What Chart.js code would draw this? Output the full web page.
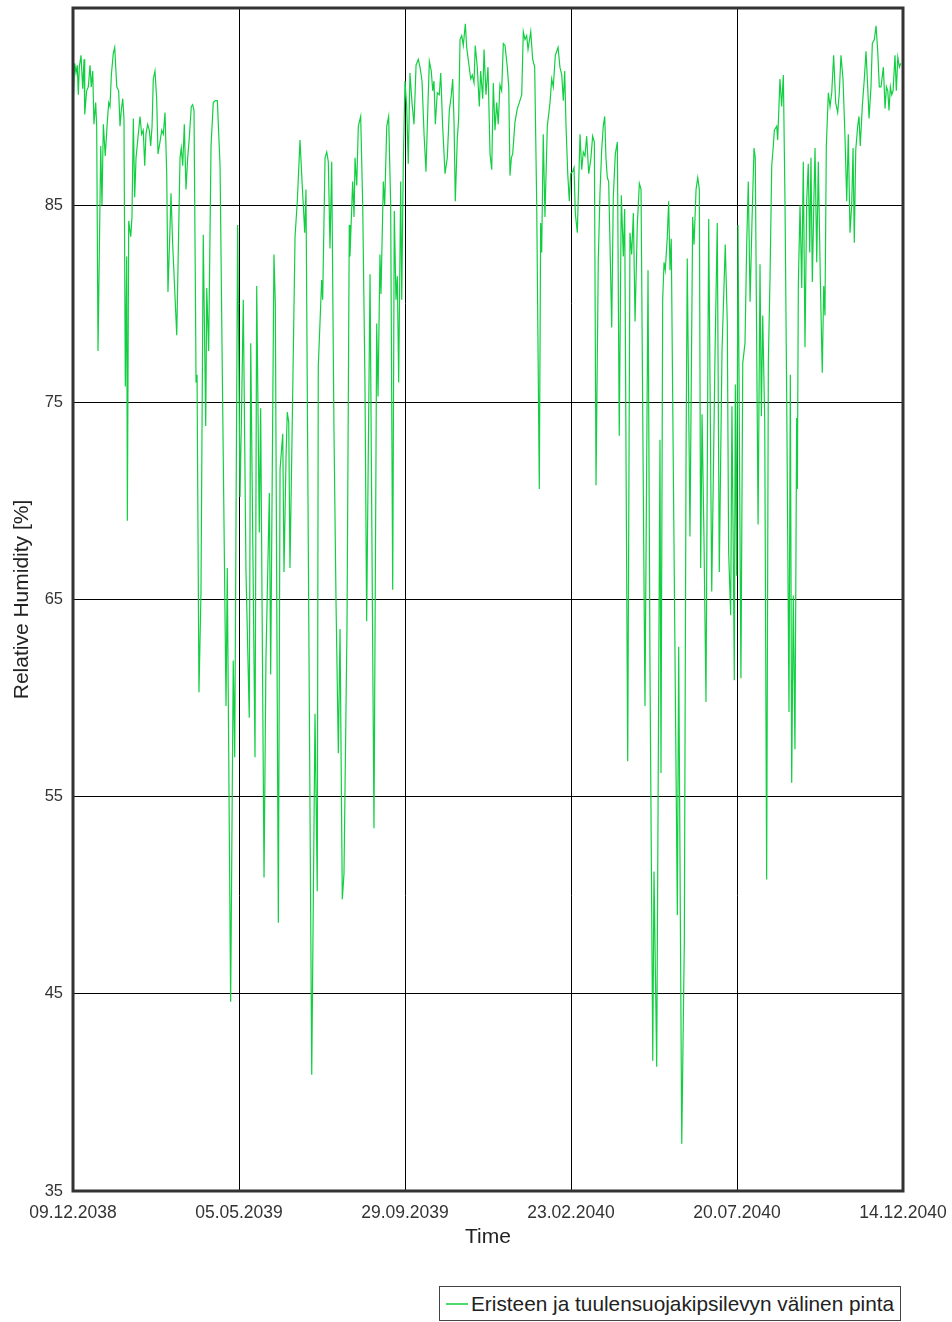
<!DOCTYPE html>
<html>
<head>
<meta charset="utf-8">
<title>Relative Humidity</title>
<script src="https://cdn.jsdelivr.net/npm/chart.js@4.4.1/dist/chart.umd.min.js"></script>
<style>
  html, body { margin: 0; padding: 0; background: #fff; }
  #wrap { position: relative; width: 952px; height: 1322px; overflow: hidden; }
  canvas { display: block; }
  #legend {
    position: absolute; left: 439px; top: 1286px; width: 460px; height: 33px;
    border: 1px solid #444; background: #fff;
    display: flex; align-items: center;
    font-family: 'Liberation Sans', Arial, sans-serif; font-size: 20.8px; color: #222;
    white-space: nowrap;
  }
  #legend .swatch { display: inline-block; width: 22px; height: 0; border-top: 2px solid #4cdb6b; margin-left: 6px; margin-right: 3px; }
</style>
</head>
<body>
<div id="wrap">
  <canvas id="c" width="952" height="1322"></canvas>
  <div id="legend"><span class="swatch"></span><span id="legendText"></span></div>
</div>
<script>
// Axis labels
const tickLabels = ['09.12.2038', '05.05.2039', '29.09.2039', '23.02.2040', '20.07.2040', '14.12.2040'];
const spanDays = 736;               // days from 09.12.2038 to 14.12.2040
const yTicks = [35, 45, 55, 65, 75, 85, 95];
const seriesName = 'Eristeen ja tuulensuojakipsilevyn välinen pinta';

// Time in days since 09.12.2038
const days = [
  0.3, 1.5, 2.7, 3.8, 4.7, 5.6, 7.1, 8.6, 9.8, 10.4, 12.1, 13.6, 15.1, 16.2, 17.5, 18.6, 20.1, 21.0, 22.2, 24.6,
  25.7, 26.9, 28.6, 30.4, 31.7, 32.8, 34.0, 35.7, 37.0, 38.8, 40.5, 41.7, 42.8, 44.1, 45.2, 46.4, 47.6, 48.2, 49.4, 51.2,
  52.3, 53.5, 54.7, 55.9, 57.9, 59.4, 60.9, 62.3, 63.6, 64.7, 66.2, 67.7, 68.9, 70.1, 71.2, 72.7, 74.2, 75.4, 77.1, 78.7,
  80.1, 81.6, 83.1, 84.2, 86.0, 86.9, 88.4, 92.0, 94.9, 96.0, 97.3, 98.7, 100.2, 101.7, 103.1, 104.9, 106.1, 107.3, 108.5, 109.1,
  110.0, 111.7, 113.5, 115.5, 117.7, 118.6, 120.3, 122.4, 124.4, 126.2, 128.0, 130.4, 132.7, 135.7, 136.8, 139.8, 142.1, 143.4, 146.0, 148.1,
  149.6, 151.0, 153.4, 156.3, 157.6, 161.4, 162.9, 165.2, 166.4, 169.4, 171.1, 174.1, 175.3, 178.2, 179.4, 182.1, 183.6, 186.0, 187.1, 188.9,
  190.0, 191.3, 192.4, 193.9, 196.9, 198.9, 201.3, 203.1, 205.5, 206.6, 211.7, 214.6, 216.6, 217.5, 220.5, 221.4, 223.5, 225.0, 226.4, 227.9,
  229.4, 231.4, 233.2, 235.3, 236.8, 238.8, 240.3, 243.0, 245.0, 245.6, 248.0, 249.2, 250.1, 251.6, 253.0, 255.1, 256.9, 258.9, 260.4, 263.4,
  266.9, 269.3, 270.5, 272.2, 273.1, 275.2, 276.4, 278.2, 279.9, 281.7, 283.5, 284.9, 286.4, 287.6, 288.8, 290.6, 291.5, 292.9, 294.4, 295.9,
  297.3, 298.8, 300.6, 302.4, 304.2, 306.2, 307.7, 309.5, 311.3, 313.0, 314.8, 316.0, 317.7, 319.0, 320.1, 321.3, 323.0, 324.8, 326.1, 327.8,
  329.9, 331.9, 333.7, 335.5, 336.7, 337.9, 339.0, 340.8, 342.0, 343.2, 344.7, 346.1, 347.9, 349.1, 350.9, 352.7, 354.1, 355.6, 356.7, 358.5,
  360.3, 361.5, 363.3, 364.5, 366.2, 368.0, 369.8, 371.3, 372.7, 374.2, 375.7, 377.1, 378.6, 380.1, 381.6, 383.1, 385.1, 386.4, 387.5, 388.7,
  389.9, 391.9, 394.0, 395.8, 397.9, 399.3, 400.8, 402.3, 403.5, 404.6, 405.9, 407.6, 409.4, 411.2, 413.5, 414.7, 415.6, 417.0, 418.5, 420.6,
  423.0, 424.5, 425.9, 427.7, 430.1, 431.8, 433.4, 434.8, 436.0, 437.2, 438.7, 440.1, 441.3, 443.1, 444.3, 445.4, 447.2, 449.6, 451.1, 452.5,
  454.0, 455.5, 457.3, 459.1, 460.8, 462.3, 463.8, 465.8, 467.3, 468.8, 470.2, 471.5, 472.6, 473.8, 475.0, 476.2, 477.7, 479.1, 480.9, 482.7,
  484.4, 486.2, 488.0, 489.2, 491.9, 493.9, 495.4, 496.9, 498.4, 500.4, 502.2, 503.7, 507.2, 509.9, 511.7, 514.1, 515.2, 517.6, 520.5, 521.4,
  522.9, 524.1, 525.2, 527.0, 528.2, 529.4, 530.5, 535.9, 537.1, 539.8, 542.1, 543.6, 544.7, 547.1, 549.5, 550.7, 552.5, 554.0, 555.4, 556.6,
  557.8, 559.5, 561.3, 563.7, 566.4, 569.3, 571.3, 573.1, 575.5, 578.4, 580.2, 581.4, 583.2, 584.3, 585.5, 586.4, 587.3, 588.5, 589.7, 592.3,
  593.9, 595.9, 597.4, 598.8, 600.4, 602.1, 603.9, 605.0, 606.3, 607.5, 609.2, 610.4, 611.6, 613.4, 615.1, 616.6, 618.1, 619.6, 621.0, 621.9,
  624.0, 624.9, 626.9, 628.4, 629.9, 631.4, 632.9, 634.9, 636.1, 637.3, 638.7, 640.2, 641.7, 642.3, 643.2, 644.7, 646.2, 647.6, 649.1, 650.6,
  652.0, 653.3, 654.4, 655.6, 657.1, 658.0, 659.5, 660.9, 662.7, 664.4, 665.7, 666.8, 668.0, 669.8, 671.3, 672.8, 674.5, 676.3, 678.1, 679.5,
  681.0, 682.8, 684.6, 686.1, 687.5, 689.0, 690.5, 691.7, 692.8, 694.1, 695.8, 697.0, 698.1, 699.9, 701.7, 703.2, 704.7, 705.9, 707.6, 708.8,
  710.6, 712.1, 713.6, 715.0, 716.5, 718.6, 720.1, 721.3, 722.5, 723.6, 724.8, 726.0, 727.2, 728.9, 730.1, 731.4, 732.8, 734.0
];

// Relative humidity [%]
const rh = [
  90.4, 92.2, 91.7, 92.1, 90.6, 92.0, 92.6, 90.9, 92.4, 89.6, 90.8, 91.0, 92.1, 91.0, 91.8, 89.1, 90.2, 89.0, 77.6, 88.0,
  85.0, 89.1, 87.5, 89.2, 90.2, 90.0, 91.6, 92.7, 93.0, 91.0, 90.8, 89.0, 89.8, 90.4, 89.4, 75.8, 82.4, 69.0, 84.2, 83.4,
  84.4, 89.4, 85.4, 87.4, 88.6, 89.5, 88.6, 88.8, 87.0, 88.6, 89.1, 88.8, 88.0, 89.0, 91.4, 91.8, 90.4, 87.6, 88.2, 88.8,
  88.6, 89.7, 86.6, 80.6, 83.8, 85.6, 83.0, 78.4, 87.4, 87.9, 87.0, 89.1, 85.8, 87.4, 88.4, 90.0, 90.1, 89.8, 81.0, 76.0,
  76.4, 60.3, 65.4, 83.5, 73.8, 80.8, 77.6, 88.0, 90.2, 90.3, 90.3, 87.0, 75.0, 59.6, 66.6, 44.6, 61.9, 57.0, 84.0, 70.2,
  75.0, 80.2, 66.4, 59.0, 78.0, 57.0, 80.9, 68.4, 74.7, 50.9, 62.0, 70.4, 61.2, 82.5, 80.0, 48.6, 71.6, 73.4, 66.4, 72.2,
  74.5, 74.0, 66.6, 72.0, 83.4, 85.2, 88.3, 86.2, 83.6, 85.8, 40.9, 59.2, 50.2, 76.8, 81.2, 80.2, 87.4, 87.7, 87.2, 82.8,
  87.2, 73.7, 65.0, 57.2, 63.5, 49.8, 51.1, 63.8, 84.0, 82.4, 86.2, 84.4, 87.4, 86.0, 89.0, 89.5, 85.0, 76.0, 63.9, 81.5,
  53.4, 79.0, 75.3, 82.5, 80.5, 86.2, 85.0, 89.0, 89.5, 85.0, 65.5, 84.7, 80.2, 81.4, 76.0, 86.2, 80.2, 87.2, 91.3, 90.0,
  87.1, 91.7, 90.2, 89.1, 92.1, 92.4, 92.0, 91.3, 88.6, 86.7, 90.2, 92.3, 91.8, 90.8, 91.3, 89.1, 90.7, 90.6, 91.7, 89.0,
  86.6, 87.4, 89.8, 90.6, 91.4, 89.2, 85.2, 88.4, 89.4, 93.4, 93.6, 93.1, 94.2, 93.0, 92.2, 91.4, 91.6, 91.2, 93.1, 92.0,
  90.0, 91.8, 90.4, 92.9, 90.6, 92.0, 87.6, 86.8, 91.2, 88.8, 90.2, 89.1, 91.1, 90.8, 93.2, 93.1, 92.0, 91.0, 86.5, 87.4,
  87.6, 89.2, 89.9, 90.2, 90.6, 93.8, 93.4, 93.6, 92.9, 93.3, 93.8, 92.4, 92.0, 85.0, 70.6, 84.1, 82.6, 88.6, 84.4, 89.0,
  90.2, 91.4, 91.0, 92.6, 93.0, 92.0, 91.6, 90.3, 91.8, 89.0, 86.6, 85.2, 86.6, 86.7, 86.9, 84.6, 83.6, 88.6, 86.8, 87.7,
  87.5, 88.5, 86.6, 87.3, 88.5, 88.2, 70.8, 82.2, 85.6, 87.8, 89.0, 89.5, 87.4, 86.4, 86.2, 83.0, 78.8, 85.4, 87.6, 88.2,
  73.3, 85.5, 82.4, 84.8, 56.8, 83.6, 82.5, 84.6, 79.1, 84.0, 86.1, 85.8, 59.6, 81.7, 61.0, 41.6, 51.2, 41.3, 73.1, 56.2,
  80.2, 82.1, 81.7, 83.4, 85.2, 81.7, 83.3, 49.0, 62.6, 37.4, 47.7, 72.0, 82.3, 68.2, 84.4, 83.0, 85.8, 86.4, 85.8, 66.6,
  74.4, 68.2, 59.8, 84.3, 65.4, 77.4, 84.1, 66.4, 77.6, 83.0, 79.0, 67.4, 64.2, 74.8, 67.4, 60.9, 75.9, 66.2, 84.0, 61.0,
  77.0, 78.0, 83.0, 86.2, 80.1, 84.2, 87.9, 87.4, 77.6, 68.8, 82.0, 74.3, 79.4, 74.0, 50.8, 77.0, 81.4, 87.0, 88.0, 88.8,
  89.0, 88.3, 91.4, 90.0, 91.6, 85.0, 75.0, 59.3, 76.4, 55.7, 65.2, 57.4, 74.2, 70.6, 81.0, 85.0, 80.8, 87.2, 77.8, 85.2,
  87.1, 82.6, 87.4, 81.1, 85.6, 87.9, 82.1, 87.2, 81.2, 76.5, 80.9, 79.4, 88.0, 90.7, 90.0, 90.7, 92.6, 90.2, 89.7, 90.7,
  92.6, 91.4, 88.4, 85.2, 88.6, 83.6, 85.0, 87.9, 83.1, 87.8, 89.0, 89.5, 88.0, 90.0, 91.4, 92.8, 91.0, 89.4, 91.0, 93.2,
  93.4, 94.1, 92.8, 91.0, 91.0, 92.0, 89.9, 91.0, 90.8, 89.8, 91.0, 90.6, 90.8, 92.6, 90.8, 92.5, 92.0, 92.2
];

const FONT = "'Liberation Sans', Arial, sans-serif";
document.getElementById('legendText').textContent = seriesName;

// Dark frame around the plotting area
const framePlugin = {
  id: 'plotFrame',
  afterDatasetsDraw(chart) {
    const { ctx, chartArea: a } = chart;
    ctx.save();
    ctx.strokeStyle = '#333';
    ctx.lineWidth = 3;
    ctx.strokeRect(a.left, a.top, a.right - a.left, a.bottom - a.top);
    ctx.restore();
  }
};

new Chart(document.getElementById('c'), {
  type: 'line',
  data: {
    datasets: [{
      label: seriesName,
      data: days.map((d, i) => ({ x: d, y: rh[i] })),
      borderColor: '#12cf42',
      borderWidth: 1.2,
      pointRadius: 0,
      tension: 0,
      fill: false
    }]
  },
  options: {
    responsive: false,
    animation: false,
    devicePixelRatio: 1,
    layout: { padding: { top: 8, left: 0, right: 49, bottom: 72 } },
    plugins: { legend: { display: false }, tooltip: { enabled: false } },
    scales: {
      x: {
        type: 'linear',
        min: 0,
        max: spanDays,
        grid: { color: '#000', lineWidth: 1, drawTicks: false },
        border: { display: false },
        ticks: {
          padding: 12,
          color: '#333',
          font: { family: FONT, size: 17.5 },
          maxRotation: 0,
          autoSkip: false,
          callback: (v, i) => tickLabels[i]
        },
        afterBuildTicks: s => {
          const n = tickLabels.length - 1;
          s.ticks = tickLabels.map((_, i) => ({ value: i * spanDays / n }));
        },
        afterFit: s => { s.height = 59; s.paddingLeft = 0; s.paddingRight = 0; },
        title: {
          display: true, text: 'Time', color: '#222',
          font: { family: FONT, size: 21 }, padding: { top: 0, bottom: 0 }
        }
      },
      y: {
        min: yTicks[0],
        max: yTicks[yTicks.length - 1],
        grid: { color: '#000', lineWidth: 1, drawTicks: false },
        border: { display: false },
        ticks: {
          padding: 10,
          color: '#333',
          font: { family: FONT, size: 16.5 },
          callback: v => (v === yTicks[yTicks.length - 1] ? '' : String(v))
        },
        afterBuildTicks: s => { s.ticks = yTicks.map(v => ({ value: v })); },
        afterFit: s => { s.width = 73; s.paddingTop = 0; s.paddingBottom = 0; },
        title: {
          display: true, text: 'Relative Humidity [%]', color: '#222',
          font: { family: FONT, size: 21 }, padding: { top: 10, bottom: 0 }
        }
      }
    }
  },
  plugins: [framePlugin]
});
</script>
</body>
</html>
